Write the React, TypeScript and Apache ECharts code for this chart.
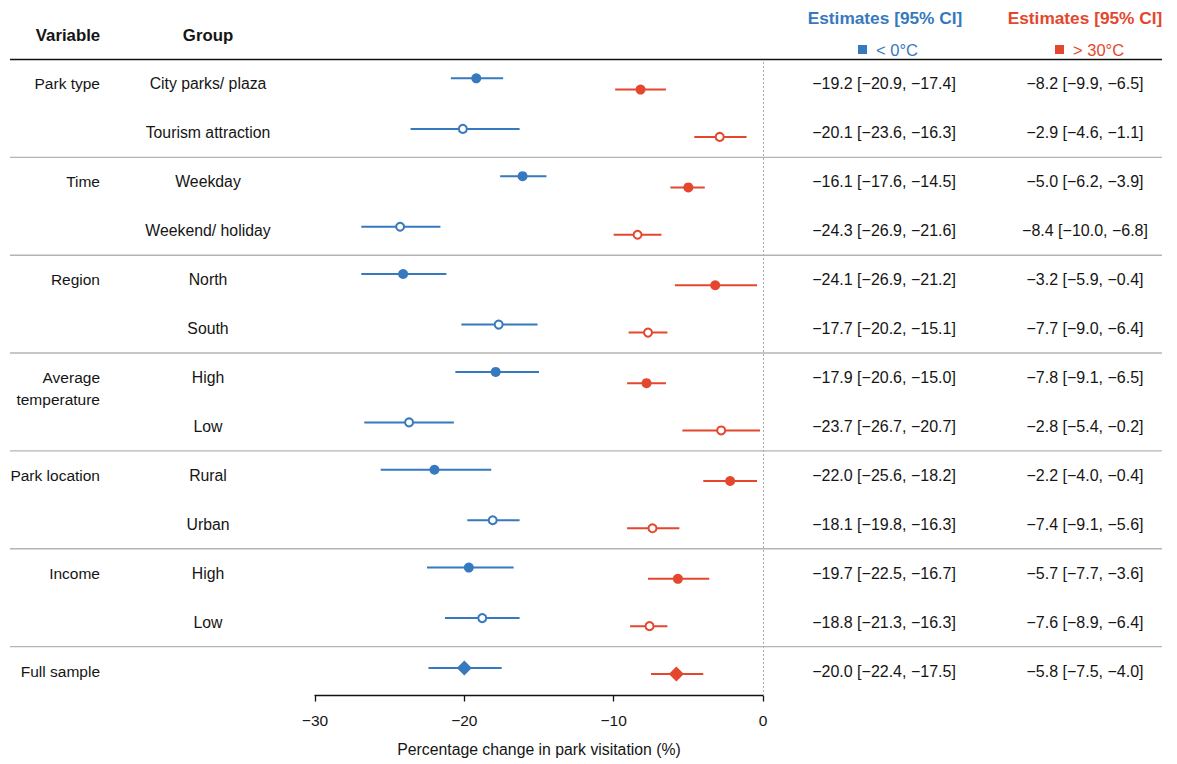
import React, { useEffect, useRef } from 'react';
import * as echarts from 'echarts';

// ---------- data ----------
const variables = ['Park type', 'Time', 'Region', 'Average\ntemperature', 'Park location', 'Income', 'Full sample'];
const groups = [
  'City parks/ plaza', 'Tourism attraction',
  'Weekday', 'Weekend/ holiday',
  'North', 'South',
  'High', 'Low',
  'Rural', 'Urban',
  'High', 'Low',
  '',
];
const variableOfRow = [0, 0, 1, 1, 2, 2, 3, 3, 4, 4, 5, 5, 6];
const markerKind = ['filled', 'open', 'filled', 'open', 'filled', 'open', 'filled', 'open', 'filled', 'open', 'filled', 'open', 'diamond'];

const coldEst = [-19.2, -20.1, -16.1, -24.3, -24.1, -17.7, -17.9, -23.7, -22.0, -18.1, -19.7, -18.8, -20.0];
const coldLo = [-20.9, -23.6, -17.6, -26.9, -26.9, -20.2, -20.6, -26.7, -25.6, -19.8, -22.5, -21.3, -22.4];
const coldHi = [-17.4, -16.3, -14.5, -21.6, -21.2, -15.1, -15.0, -20.7, -18.2, -16.3, -16.7, -16.3, -17.5];

const hotEst = [-8.2, -2.9, -5.0, -8.4, -3.2, -7.7, -7.8, -2.8, -2.2, -7.4, -5.7, -7.6, -5.8];
const hotLo = [-9.9, -4.6, -6.2, -10.0, -5.9, -9.0, -9.1, -5.4, -4.0, -9.1, -7.7, -8.9, -7.5];
const hotHi = [-6.5, -1.1, -3.9, -6.8, -0.4, -6.4, -6.5, -0.2, -0.4, -5.6, -3.6, -6.4, -4.0];

const xMin = -30;
const xMax = 0;
const xStep = 10;

const coldName = '< 0°C';
const hotName = '> 30°C';
const headerEst = 'Estimates [95% CI]';
const axisTitle = 'Percentage change in park visitation (%)';

// ---------- style ----------
const FONT = '"Liberation Sans", Arial, Helvetica, sans-serif';
const BLUE = '#3779be';
const RED = '#e4472e';
const TEXT = '#151515';
const GREY_LINE = '#b4b4b4';

const dodge: Record<string, number> = { filled: 0.115, open: 0.082, diamond: 0.06 };
const symbolOf: Record<string, string> = { filled: 'circle', open: 'emptyCircle', diamond: 'diamond' };
const sizeOf: Record<string, number> = { filled: 10, open: 8, diamond: 15 };

const fmt = (v: number) => v.toFixed(1).replace('-', '\u2212');
const estText = (e: number, lo: number, hi: number) => `${fmt(e)} [${fmt(lo)}, ${fmt(hi)}]`;

export default function App() {
  const ref = useRef<HTMLDivElement>(null);

  useEffect(() => {
    document.body.style.margin = '0';
    const chart = echarts.init(ref.current!, null, { renderer: 'svg' });

    const top = 10.6;
    const bottom = 68.5;
    const yMin = -1.5;
    const yMax = groups.length - 0.5;

    const separators: number[] = [-0.5];
    for (let i = 1; i < variableOfRow.length; i++) {
      if (variableOfRow[i] !== variableOfRow[i - 1]) separators.push(i - 0.5);
    }

    const ciSeries = (lo: number[], hi: number[], sign: number, color: string) => ({
      type: 'custom',
      xAxisIndex: 0,
      yAxisIndex: 0,
      silent: true,
      z: 2,
      data: lo.map((l, i) => [l, hi[i], i + sign * dodge[markerKind[i]]]),
      encode: { x: [0, 1], y: 2 },
      renderItem: (_p: any, api: any) => {
        const a = api.coord([api.value(0), api.value(2)]);
        const b = api.coord([api.value(1), api.value(2)]);
        return {
          type: 'line',
          shape: { x1: a[0], y1: a[1], x2: b[0], y2: b[1] },
          style: { stroke: color, lineWidth: 2 },
        };
      },
    });

    const pointSeries = (name: string, est: number[], sign: number, color: string) => ({
      type: 'scatter',
      name,
      xAxisIndex: 0,
      yAxisIndex: 0,
      z: 3,
      itemStyle: { color, opacity: 1 },
      data: est.map((v, i) => {
        const k = markerKind[i];
        return {
          value: [v, i + sign * dodge[k]],
          symbol: symbolOf[k],
          symbolSize: sizeOf[k],
          itemStyle: k === 'open'
            ? { color, borderColor: color, borderWidth: 2, opacity: 1 }
            : { color, borderWidth: 0, opacity: 1 },
        };
      }),
    });

    const VAR_X = 100;
    const GROUP_X = 208;
    const COLD_X = 884;
    const HOT_X = 1085;

    const tStyle = (text: string, align: string, extra: any = {}) => ({
      text,
      align,
      textAlign: align,
      verticalAlign: 'middle',
      textVerticalAlign: 'middle',
      fontSize: 15.5,
      fontFamily: FONT,
      fill: TEXT,
      ...extra,
    });

    const option: any = {
      animation: false,
      backgroundColor: '#ffffff',
      textStyle: { fontFamily: FONT },
      grid: [
        { left: 315, right: 414, top, bottom },
        { left: 0, right: 0, top, bottom },
      ],
      xAxis: [
        {
          gridIndex: 0,
          type: 'value',
          min: xMin,
          max: xMax,
          interval: xStep,
          position: 'bottom',
          axisLine: { show: true, onZero: false, lineStyle: { color: '#111', width: 1.3 } },
          axisTick: { show: true, length: 6, lineStyle: { color: '#111', width: 1.3 } },
          axisLabel: {
            fontSize: 15.5,
            color: TEXT,
            margin: 17,
            fontFamily: FONT,
            formatter: (v: number) => String(v).replace('-', '\u2212'),
          },
          splitLine: { show: false },
          name: axisTitle,
          nameLocation: 'middle',
          nameGap: 46,
          nameTextStyle: { fontSize: 15.8, color: TEXT, fontFamily: FONT },
        },
        { gridIndex: 1, type: 'value', min: 0, max: 1177, show: false },
      ],
      yAxis: [
        { gridIndex: 0, type: 'value', min: yMin, max: yMax, inverse: true, show: false },
        { gridIndex: 1, type: 'value', min: yMin, max: yMax, inverse: true, show: false },
      ],
      legend: [
        {
          data: [{ name: coldName, icon: 'rect', itemStyle: { color: BLUE, opacity: 1 } }],
          left: 853,
          top: 36,
          itemWidth: 9,
          itemHeight: 9,
          selectedMode: false,
          textStyle: { color: BLUE, fontSize: 16.5, fontFamily: FONT, padding: [0, 0, 0, 4] },
        },
        {
          data: [{ name: hotName, icon: 'rect', itemStyle: { color: RED, opacity: 1 } }],
          left: 1050,
          top: 36,
          itemWidth: 9,
          itemHeight: 9,
          selectedMode: false,
          textStyle: { color: RED, fontSize: 16.5, fontFamily: FONT, padding: [0, 0, 0, 4] },
        },
      ],
      graphic: [
        { type: 'text', x: 68, y: 35, style: tStyle('Variable', 'center', { fontWeight: 'bold', fontSize: 16.8 }) },
        { type: 'text', x: 208, y: 35, style: tStyle('Group', 'center', { fontWeight: 'bold', fontSize: 16.8 }) },
        { type: 'text', x: COLD_X + 1, y: 18, style: tStyle(headerEst, 'center', { fontWeight: 'bold', fontSize: 17.3, fill: BLUE }) },
        { type: 'text', x: HOT_X, y: 18, style: tStyle(headerEst, 'center', { fontWeight: 'bold', fontSize: 17.3, fill: RED }) },
      ],
      series: [
        // separators (header rule black, group rules grey)
        {
          type: 'custom',
          xAxisIndex: 1,
          yAxisIndex: 1,
          silent: true,
          z: 1,
          data: separators.map((s) => [10, s]),
          renderItem: (params: any, api: any) => {
            const a = api.coord([10, api.value(1)]);
            const b = api.coord([1162, api.value(1)]);
            const isHeader = params.dataIndex === 0;
            return {
              type: 'line',
              shape: { x1: a[0], y1: a[1], x2: b[0], y2: b[1] },
              style: { stroke: isHeader ? '#111' : GREY_LINE, lineWidth: isHeader ? 1.6 : 1.4 },
            };
          },
        },
        // table texts
        {
          type: 'custom',
          xAxisIndex: 1,
          yAxisIndex: 1,
          silent: true,
          z: 4,
          data: groups.map((_g, i) => [0, i]),
          renderItem: (params: any, api: any) => {
            const i = params.dataIndex;
            const y = api.coord([0, i])[1];
            const children: any[] = [];
            const v = variableOfRow[i];
            if (i === 0 || variableOfRow[i - 1] !== v) {
              const label = variables[v];
              const multi = label.indexOf('\n') >= 0;
              children.push({
                type: 'text',
                x: api.coord([VAR_X, i])[0],
                y: multi ? y - 10.5 : y,
                style: tStyle(label, 'right', multi
                  ? { verticalAlign: 'top', textVerticalAlign: 'top', lineHeight: 21.5 }
                  : {}),
              });
            }
            if (groups[i]) {
              children.push({ type: 'text', x: api.coord([GROUP_X, i])[0], y, style: tStyle(groups[i], 'center', { fontSize: 15.8 }) });
            }
            children.push({
              type: 'text',
              x: api.coord([COLD_X, i])[0],
              y,
              style: tStyle(estText(coldEst[i], coldLo[i], coldHi[i]), 'center', { fontSize: 16 }),
            });
            children.push({
              type: 'text',
              x: api.coord([HOT_X, i])[0],
              y,
              style: tStyle(estText(hotEst[i], hotLo[i], hotHi[i]), 'center', { fontSize: 16 }),
            });
            return { type: 'group', children };
          },
        },
        ciSeries(coldLo, coldHi, -1, BLUE),
        ciSeries(hotLo, hotHi, 1, RED),
        {
          ...pointSeries(coldName, coldEst, -1, BLUE),
          markLine: {
            silent: true,
            symbol: ['none', 'none'],
            label: { show: false },
            lineStyle: { type: [2, 2], color: '#aaaaaa', width: 1, opacity: 1 },
            data: [[{ coord: [0, -0.45] }, { coord: [0, yMax] }]],
          },
        },
        pointSeries(hotName, hotEst, 1, RED),
      ],
    };

    chart.setOption(option);
    return () => chart.dispose();
  }, []);

  return <div ref={ref} style={{ width: 1177, height: 764 }} />;
}
